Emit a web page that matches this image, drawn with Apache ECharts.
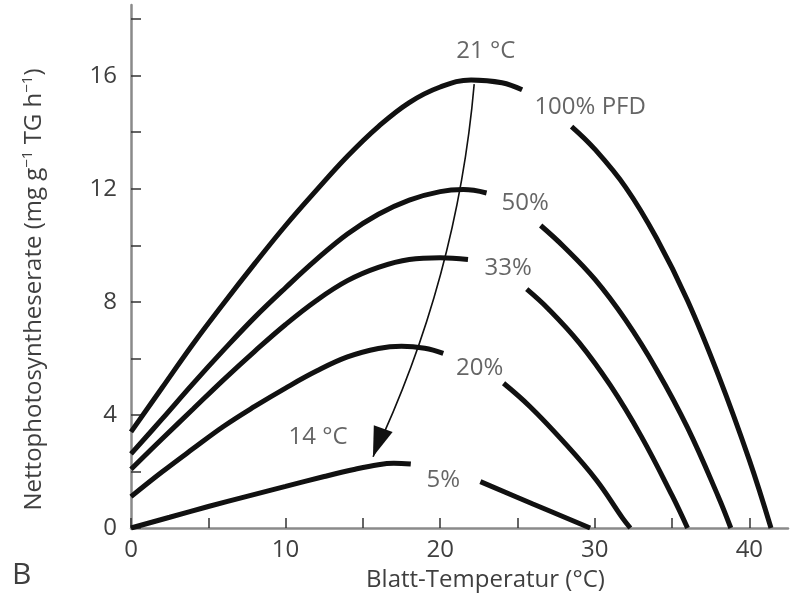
<!DOCTYPE html>
<html>
<head>
<meta charset="utf-8">
<script src="https://cdn.jsdelivr.net/npm/echarts@6/dist/echarts.min.js"></script>
<style>
html, body { margin: 0; padding: 0; background: #fff; }
#chart { width: 795px; height: 602px; }
</style>
</head>
<body>
<div id="chart"></div>
<script>
// axis ticks and labels
const xTicks = [0, 5, 10, 15, 20, 25, 30, 35, 40];
const xLabels = [0, 10, 20, 30, 40];
const yTicks = [0, 2, 4, 6, 8, 10, 12, 14, 16, 18];
const yLabels = [0, 4, 8, 12, 16];

// curves, [temperature, rate]; each one broken where its label sits
const pfd100Left = [[0, 3.4], [2, 4.95], [4, 6.5], [6, 7.95], [8, 9.35], [10, 10.7], [12, 11.95], [14, 13.15], [16, 14.2], [18, 15.05], [20, 15.6], [22, 15.85], [24, 15.75], [25.3, 15.5]];
const pfd100Right = [[28.5, 14.2], [30, 13.4], [32, 12.05], [34, 10.25], [36, 8.05], [38, 5.4], [40, 2.4], [41.4, 0]];
const pfd50Left = [[0, 2.62], [2, 3.85], [4, 5.1], [6, 6.3], [8, 7.45], [10, 8.5], [12, 9.5], [14, 10.4], [16, 11.1], [18, 11.6], [20, 11.9], [21.5, 11.97], [23, 11.85]];
const pfd50Right = [[26.5, 10.7], [28, 9.95], [30, 8.8], [32, 7.35], [34, 5.6], [36, 3.55], [38, 1.1], [38.8, 0]];
const pfd33Left = [[0, 2.08], [2, 3.15], [4, 4.2], [6, 5.25], [8, 6.25], [10, 7.2], [12, 8.05], [14, 8.75], [16, 9.22], [18, 9.5], [20, 9.56], [21.8, 9.5]];
const pfd33Right = [[25.6, 8.45], [27, 7.75], [29, 6.55], [31, 5.05], [33, 3.25], [35, 1.15], [36, 0]];
const pfd20Left = [[0, 1.11], [2, 1.98], [4, 2.8], [6, 3.6], [8, 4.3], [10, 4.95], [12, 5.55], [14, 6.05], [16, 6.35], [17.5, 6.43], [19, 6.36], [20.2, 6.18]];
const pfd20Right = [[24.1, 5.12], [25.8, 4.3], [27.9, 3.1], [30.1, 1.7], [31.8, 0.35], [32.3, 0]];
const pfd5Left = [[0, 0], [2.5, 0.38], [5, 0.76], [7.5, 1.12], [10, 1.47], [12.5, 1.82], [14.5, 2.08], [16, 2.24], [17, 2.29], [18.1, 2.26]];
const pfd5Right = [[22.6, 1.64], [26, 0.85], [29.7, 0]];

// optimum shift arrow
const arrowFrom = [22.2, 15.7];
const arrowTo = [15.66, 2.52];

// text in the plot: [text, x, y]
const notes = [
    ['21 °C', 22.95, 16.85],
    ['100% PFD', 29.7, 14.87],
    ['50%', 25.5, 11.5],
    ['33%', 24.4, 9.2],
    ['20%', 22.56, 5.66],
    ['5%', 20.2, 1.7],
    ['14 °C', 12.1, 3.22]
];

const textColor = '#3f3f3f';
const font = 'Open Sans';

function curve(data) {
    return {
        type: 'line',
        data: data,
        smooth: 0.4,
        showSymbol: false,
        silent: true,
        lineStyle: { color: '#111', width: 5 }
    };
}

const chart = echarts.init(document.getElementById('chart'));

let series = [
    pfd100Left, pfd100Right, pfd50Left, pfd50Right, pfd33Left, pfd33Right,
    pfd20Left, pfd20Right, pfd5Left, pfd5Right
].map(curve);

// arrow shaft
series.push({
    type: 'lines',
    coordinateSystem: 'cartesian2d',
    silent: true,
    symbol: ['none', 'none'],
    lineStyle: { color: '#111', width: 1.6, curveness: 0.09, opacity: 1 },
    data: [{ coords: [arrowFrom, arrowTo] }]
});

// arrow head
series.push({
    type: 'scatter',
    silent: true,
    symbol: 'triangle',
    symbolSize: [20, 30],
    symbolRotate: 160,
    symbolOffset: [5, -14],
    itemStyle: { color: '#111', opacity: 1 },
    data: [arrowTo],
    z: 5
});

series.push({
    type: 'scatter',
    silent: true,
    symbolSize: 1,
    itemStyle: { color: 'transparent' },
    data: notes.map(n => ({ name: n[0], value: [n[1], n[2]] })),
    label: {
        show: true,
        position: 'inside',
        formatter: p => p.name,
        fontSize: 24,
        color: textColor
    },
    z: 10
});

const option = {
    animation: false,
    textStyle: { fontFamily: font },
    grid: { left: 131, right: 7, top: 5, bottom: 74, containLabel: false },
    xAxis: {
        type: 'value',
        min: 0,
        max: 42.5,
        interval: 5,
        name: 'Blatt-Temperatur (°C)',
        nameLocation: 'middle',
        nameGap: 40,
        nameTextStyle: { fontSize: 24, color: textColor, padding: [0, 0, 0, 52] },
        axisLine: { lineStyle: { color: '#8a8a8a', width: 2.5 } },
        axisTick: { inside: true, length: 10, customValues: xTicks, lineStyle: { color: '#333', width: 1.5 } },
        axisLabel: { customValues: xLabels, fontSize: 24, color: textColor, margin: 10 },
        splitLine: { show: false }
    },
    yAxis: {
        type: 'value',
        min: 0,
        max: 18.5,
        interval: 2,
        name: 'Nettophotosyntheserate (mg g{sup|−1} TG h{sup|−1})',
        nameLocation: 'middle',
        nameGap: 82,
        nameTextStyle: {
            fontSize: 24,
            color: textColor,
            padding: [0, 46, 0, 0],
            rich: { sup: { fontSize: 15, color: textColor, padding: [0, 0, 14, 0] } }
        },
        axisLine: { show: true, lineStyle: { color: '#8a8a8a', width: 2.5 } },
        axisTick: { show: true, inside: true, length: 10, customValues: yTicks, lineStyle: { color: '#333', width: 1.5 } },
        axisLabel: { customValues: yLabels, fontSize: 24, color: textColor, margin: 14 },
        splitLine: { show: false }
    },
    graphic: [{
        type: 'text',
        left: 12,
        top: 560,
        style: { text: 'B', fontSize: 30, fill: textColor, fontFamily: font }
    }],
    series: series
};

chart.setOption(option);
</script>
</body>
</html>
